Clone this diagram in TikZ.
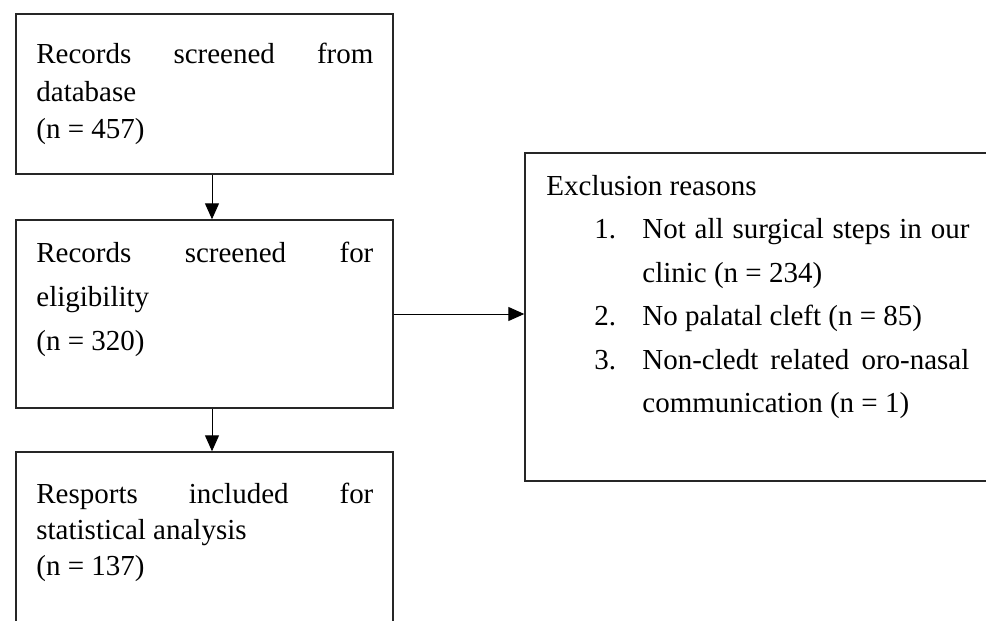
\documentclass[tikz,border=0pt]{standalone}
\usepackage{fontspec}
\setmainfont{Liberation Serif}
\usetikzlibrary{arrows.meta}
\begin{document}
\begin{tikzpicture}[x=0.5pt,y=-0.5pt,
  box/.style={draw=black!85, line width=0.7pt, inner sep=0},
  txt/.style={anchor=north west, inner sep=0, align=left, font=\fontsize{14.5}{#1}\selectfont},
  arr/.style={-{Triangle[length=8pt,width=7pt]}, line width=0.5pt}]
\useasboundingbox (0,0) rectangle (986,621);
\clip (0,0) rectangle (986,621);
\node[box, minimum width=188.5pt, minimum height=80pt] (b1) at (204.5,94) {};
\node[box, minimum width=188.5pt, minimum height=94pt] (b2) at (204.5,314) {};
\node[box, minimum width=188.5pt, minimum height=104pt] (b3) at (204.5,556) {};
\node[box, minimum width=237.5pt, minimum height=164pt] (rb) at (762.5,317) {};
\node[txt=18.75pt] (t1) at (36,43) {\rule{0pt}{10pt}\makebox[168.5pt][s]{Records screened from}\\database\\(n = 457)};
\node[txt=22pt] (t2) at (36,242) {\rule{0pt}{10pt}\makebox[168.5pt][s]{Records screened for}\\eligibility\\(n = 320)};
\node[txt=18pt] (t3) at (36,483) {\rule{0pt}{10pt}\makebox[168.5pt][s]{Resports included for}\\statistical analysis\\(n = 137)};
\node[txt=21.7pt] (t4) at (546,175) {\rule{0pt}{10pt}Exclusion reasons\\
\hspace*{24pt}\makebox[24pt][l]{1.}\makebox[163.5pt][s]{Not all surgical steps in our}\\
\hspace*{48pt}clinic (n = 234)\\
\hspace*{24pt}\makebox[24pt][l]{2.}No palatal cleft (n = 85)\\
\hspace*{24pt}\makebox[24pt][l]{3.}\makebox[163.5pt][s]{Non-cledt related oro-nasal}\\
\hspace*{48pt}communication (n = 1)};
\coordinate (ax) at (212,0);
\draw[arr] (b1.south -| ax) -- (b2.north -| ax);
\draw[arr] (b2.south -| ax) -- (b3.north -| ax);
\draw[arr] (b2.east) -- (b2.east -| rb.west);
\end{tikzpicture}
\end{document}
